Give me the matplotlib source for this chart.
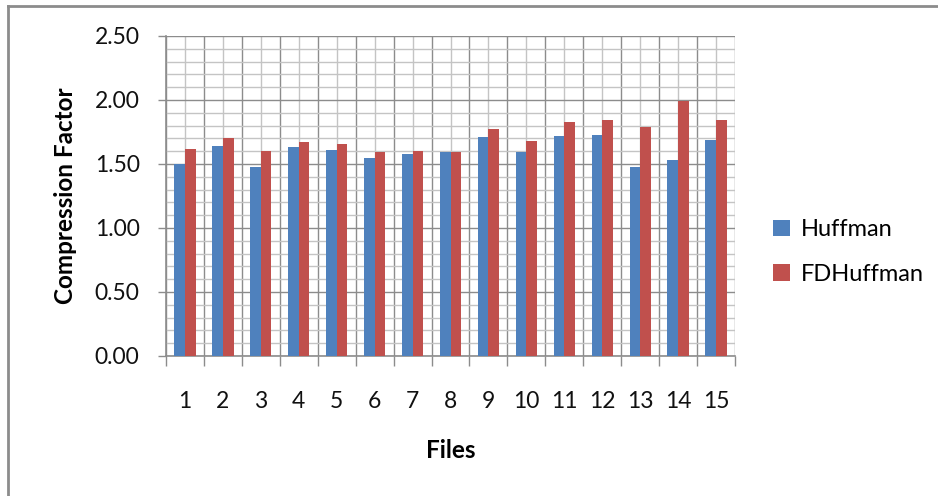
import numpy as np
import matplotlib.pyplot as plt
from matplotlib.lines import Line2D
from matplotlib.ticker import MultipleLocator, FixedLocator

files = [str(i) for i in range(1, 16)]
huffman = [1.50, 1.64, 1.48, 1.63, 1.61, 1.55, 1.58, 1.59, 1.71, 1.59, 1.72, 1.73, 1.48, 1.53, 1.69]
fdhuffman = [1.62, 1.70, 1.60, 1.67, 1.66, 1.59, 1.60, 1.59, 1.77, 1.68, 1.83, 1.84, 1.79, 1.99, 1.84]

plt.rcParams['font.family'] = ['Lato', 'DejaVu Sans']

fig = plt.figure(figsize=(9.38, 4.96), dpi=100)
ax = fig.add_axes([166 / 938, 1 - 356 / 496, (735 - 166) / 938, (356 - 36) / 496])

x = np.arange(len(files))
w = 0.28
ax.bar(x - w / 2, huffman, w, color='#4F81BD', label='Huffman', zorder=3)
ax.bar(x + w / 2, fdhuffman, w, color='#C0504D', label='FDHuffman', zorder=3)

ax.set_xlim(-0.5, len(files) - 0.5)
ax.set_ylim(0, 2.5)

# y grid: major every 0.5, minor every 0.1
ax.yaxis.set_major_locator(MultipleLocator(0.5))
ax.yaxis.set_minor_locator(MultipleLocator(0.1))
ax.yaxis.set_major_formatter(lambda v, p: f'{v:.2f}')

# x grid: dark lines between categories, light lines at centers
ax.set_xticks(x)
ax.set_xticklabels(files)
ax.xaxis.set_minor_locator(FixedLocator(np.arange(-0.5, len(files), 1.0)))

ax.grid(which='major', axis='y', color='#8c8c8c', lw=1.0, zorder=0)
ax.grid(which='minor', axis='y', color='#c4c4c4', lw=1.0, zorder=0)
ax.grid(which='major', axis='x', color='#c4c4c4', lw=1.0, zorder=0)
ax.grid(which='minor', axis='x', color='#8c8c8c', lw=1.0, zorder=0)

ax.tick_params(axis='x', which='major', length=0, pad=25, labelsize=16.5, labelcolor='#111111')
ax.tick_params(axis='x', which='minor', length=7, color='#8c8c8c', width=1)
ax.tick_params(axis='y', which='major', length=6, color='#8c8c8c', width=1, pad=13,
               labelsize=16.5, labelcolor='#111111')
ax.tick_params(axis='y', which='minor', length=0)

for s in ['top', 'right']:
    ax.spines[s].set_visible(False)
for s in ['left', 'bottom']:
    ax.spines[s].set_color('#8c8c8c')
    ax.spines[s].set_linewidth(1.2)

ax.set_ylabel('Compression Factor', fontsize=17.5, fontweight='bold', labelpad=13)
ax.set_xlabel('Files', fontsize=17.5, fontweight='bold', labelpad=20)

fig.legend(loc='center left', bbox_to_anchor=(752 / 938, 1 - 252 / 496), frameon=False,
           fontsize=17, handlelength=0.7, handleheight=0.7, handletextpad=0.45,
           labelspacing=1.0)

# outer frame (top and left edges only)
fig.add_artist(Line2D([8 / 938, 1], [1 - 6 / 496, 1 - 6 / 496], color='#8c8c8c', lw=2,
                      transform=fig.transFigure))
fig.add_artist(Line2D([8 / 938, 8 / 938], [0, 1 - 6 / 496], color='#8c8c8c', lw=2,
                      transform=fig.transFigure))

fig.savefig('out.png', dpi=100)
